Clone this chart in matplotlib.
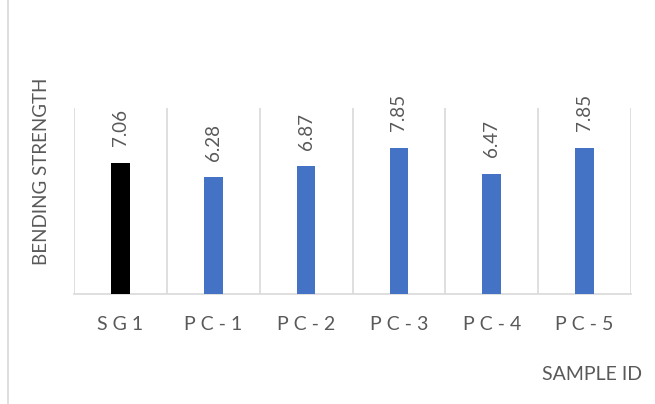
import matplotlib
matplotlib.use("Agg")
import matplotlib.pyplot as plt
from matplotlib.lines import Line2D

categories = ["SG1", "PC-1", "PC-2", "PC-3", "PC-4", "PC-5"]
values = [7.06, 6.28, 6.87, 7.85, 6.47, 7.85]
bar_colors = ["#000000", "#4472C4", "#4472C4", "#4472C4", "#4472C4", "#4472C4"]

plt.rcParams["font.family"] = ["Lato", "DejaVu Sans"]
text_color = "#595959"
grid_color = "#d9d9d9"

fig = plt.figure(figsize=(6.55, 4.04), dpi=100)
ax = fig.add_axes([74 / 655, 1 - 294 / 404, (631 - 74) / 655, (294 - 108) / 404])

x = list(range(len(categories)))
bars = ax.bar(x, values, width=0.2, color=bar_colors, zorder=3)

ax.set_xlim(-0.5, len(categories) - 0.5)
ax.set_ylim(0, 10)

# vertical gridlines between categories
for b in [i - 0.5 for i in range(len(categories) + 1)]:
    ax.axvline(b, color=grid_color, lw=1.2, zorder=1)

for s in ax.spines.values():
    s.set_visible(False)
ax.spines["bottom"].set_visible(True)
ax.spines["bottom"].set_color(grid_color)
ax.spines["bottom"].set_linewidth(1.2)

ax.set_yticks([])
ax.set_xticks(x)
ax.set_xticklabels([" ".join(c) for c in categories], fontsize=14, color=text_color)
ax.tick_params(axis="x", length=0, pad=16)

for xi, v in zip(x, values):
    ax.annotate(f"{v:.2f}", (xi, v), xytext=(0, 12), textcoords="offset points",
                rotation=90, ha="center", va="bottom", fontsize=13.5, color=text_color)

fig.text(42 / 655, 1 - 171 / 404, "BENDING STRENGTH", rotation=90, ha="center", va="center",
         fontsize=13.5, color=text_color)
fig.text(642 / 655, 1 - 375 / 404, "SAMPLE ID", ha="right", va="center",
         fontsize=14, color=text_color)

fig.add_artist(Line2D([7.5 / 655, 7.5 / 655], [0, 1], color=grid_color, lw=1.2,
                      transform=fig.transFigure))

fig.savefig("out.png", dpi=100, facecolor="white")
